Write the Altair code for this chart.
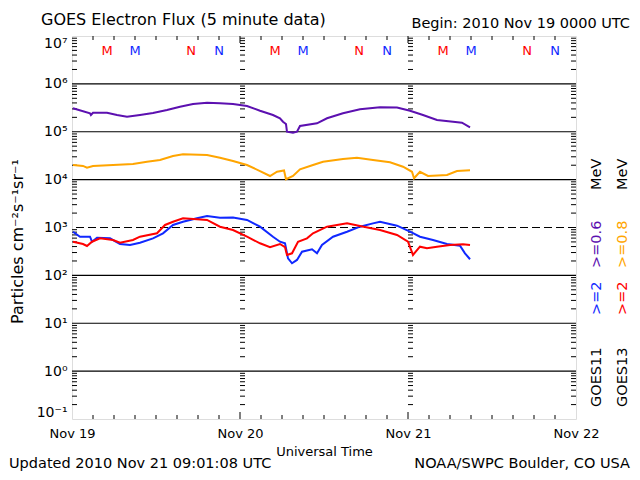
import altair as alt
import pandas as pd

# ---------------- data ----------------
day_labels = ["Nov 19", "Nov 20", "Nov 21", "Nov 22"]
day_hours = [0, 24, 48, 72]

decade_values = [0.1, 1, 10, 100, 1e3, 1e4, 1e5, 1e6, 1e7]
decade_labels = ["10⁻¹", "10⁰", "10¹", "10²", "10³", "10⁴", "10⁵", "10⁶", "10⁷"]
solid_levels = [1, 10, 100, 1e4, 1e5, 1e6]
dashed_levels = [1e3]

# GOES11 >=0.6 MeV (purple)
g11_06_hours = [0.14, 2.57, 2.7, 3.0, 5.0, 6.43, 7.86, 9.71, 11.57, 13.57, 15.43, 17.29,
                19.29, 21.14, 23.0, 25.0, 26.86, 28.71, 29.71, 30.14, 30.57, 30.71, 31.57,
                32.14, 32.57, 35.0, 36.43, 38.71, 41.14, 44.0, 46.43, 48.29, 50.14, 52.14,
                54.43, 55.71, 56.86]
g11_06_flux = [3.09e5, 2.43e5, 2.24e5, 2.50e5, 2.50e5, 2.24e5, 2.06e5, 2.24e5, 2.47e5,
               2.85e5, 3.34e5, 3.80e5, 4.05e5, 3.93e5, 3.80e5, 3.45e5, 2.75e5, 2.24e5,
               1.91e5, 1.62e5, 1.45e5, 1.0e5, 9.5e4, 1.0e5, 1.32e5, 1.50e5, 1.91e5,
               2.43e5, 2.94e5, 3.24e5, 3.2e5, 2.75e5, 2.24e5, 1.76e5, 1.62e5, 1.55e5, 1.24e5]

# GOES13 >=0.8 MeV (orange)
g13_08_hours = [0.14, 1.57, 2.14, 3.0, 5.86, 8.71, 10.71, 12.57, 14.43, 15.86, 19.29,
                21.14, 23.0, 25.0, 26.86, 28.29, 29.29, 30.29, 30.57, 31.57, 32.57, 34.43,
                35.86, 38.71, 40.71, 43.0, 45.43, 47.29, 48.57, 48.86, 49.71, 50.86, 53.57,
                55.0, 56.86]
g13_08_flux = [2.02e4, 1.93e4, 1.77e4, 1.93e4, 2.02e4, 2.12e4, 2.37e4, 2.57e4, 3.11e4,
               3.38e4, 3.27e4, 2.87e4, 2.45e4, 2.02e4, 1.51e4, 1.19e4, 1.46e4, 1.55e4,
               1.02e4, 1.19e4, 1.64e4, 2.02e4, 2.37e4, 2.70e4, 2.87e4, 2.57e4, 2.30e4,
               1.86e4, 1.46e4, 1.07e4, 1.46e4, 1.19e4, 1.25e4, 1.51e4, 1.57e4]

# GOES11 >=2 MeV (blue)
g11_2_hours = [0.14, 1.14, 2.57, 2.86, 3.57, 5.43, 6.86, 8.29, 9.71, 11.57, 13.0, 14.43,
               15.86, 17.86, 19.29, 21.14, 23.0, 25.0, 26.86, 28.71, 29.71, 30.43, 30.86,
               31.43, 32.14, 32.86, 34.29, 35.0, 35.71, 37.29, 39.29, 41.14, 43.0, 44.0,
               46.43, 48.29, 49.71, 51.57, 53.57, 55.43, 56.14, 56.86]
g11_2_flux = [8.17e2, 6.42e2, 6.42e2, 5.05e2, 6.12e2, 5.94e2, 4.52e2, 4.31e2, 4.81e2,
              5.94e2, 7.57e2, 1.13e3, 1.32e3, 1.56e3, 1.74e3, 1.60e3, 1.62e3, 1.44e3,
              1.04e3, 6.42e2, 5.05e2, 4.68e2, 2.27e2, 1.79e2, 2.10e2, 3.12e2, 3.51e2,
              2.89e2, 4.31e2, 6.42e2, 8.17e2, 1.04e3, 1.22e3, 1.32e3, 1.09e3, 8.17e2,
              6.42e2, 5.48e2, 4.52e2, 4.17e2, 2.89e2, 2.17e2]

# GOES13 >=2 MeV (red)
g13_2_hours = [0.14, 1.57, 2.14, 2.86, 4.0, 5.86, 6.86, 8.71, 9.71, 12.14, 13.29, 14.43,
               15.86, 17.86, 19.29, 21.14, 23.0, 25.0, 26.86, 28.29, 29.71, 30.43, 30.71,
               31.43, 32.29, 33.57, 34.43, 36.43, 39.29, 41.14, 44.0, 46.43, 48.0, 48.71,
               49.71, 50.71, 52.14, 54.0, 55.86, 56.86]
g13_2_flux = [5.05e2, 4.52e2, 4.11e2, 5.05e2, 5.94e2, 5.48e2, 4.81e2, 5.48e2, 6.42e2,
              7.57e2, 1.13e3, 1.32e3, 1.56e3, 1.48e3, 1.44e3, 1.04e3, 8.87e2, 6.42e2,
              4.68e2, 3.86e2, 4.52e2, 3.88e2, 2.67e2, 2.89e2, 5.05e2, 5.94e2, 7.57e2,
              1.04e3, 1.22e3, 1.07e3, 8.87e2, 6.97e2, 5.05e2, 2.67e2, 3.97e2, 3.68e2,
              3.97e2, 4.31e2, 4.45e2, 4.31e2]

series_names = ["GOES11 >=0.6 MeV", "GOES13 >=0.8 MeV", "GOES11 >=2 MeV", "GOES13 >=2 MeV"]
series_colors = ["#5c10b0", "#ffa500", "#1028ff", "#ff0000"]

# local midnight (M) / noon (N) markers
marker_hours = [5, 9, 17, 21, 29, 33, 41, 45, 53, 57, 65, 69]
marker_letters = ["M", "M", "N", "N"] * 3
marker_sats = ["GOES13", "GOES11", "GOES13", "GOES11"] * 3
marker_colors = ["#ff0000", "#1028ff"]

# axis minor ticks
minor_hours = [h for h in range(3, 72, 3) if h % 24 != 0]
minor_flux = [m * 10.0 ** k for k in range(-1, 7) for m in range(2, 10)]

FONT = "DejaVu Sans"

# ---------------- tables ----------------
lines_df = pd.concat([
    pd.DataFrame({"hour": h, "flux": f, "series": s})
    for s, h, f in zip(series_names,
                       [g11_06_hours, g13_08_hours, g11_2_hours, g13_2_hours],
                       [g11_06_flux, g13_08_flux, g11_2_flux, g13_2_flux])
])
solid_df = pd.DataFrame({"flux": solid_levels})
dashed_df = pd.DataFrame({"flux": dashed_levels})
inner_ticks_df = pd.DataFrame([(h, f) for h in day_hours[:3] for f in minor_flux],
                              columns=["hour", "flux"])
right_ticks_df = pd.DataFrame([(day_hours[3], f) for f in minor_flux],
                              columns=["hour", "flux"])
minor_x_df = pd.DataFrame({"hour": minor_hours})
day_x_df = pd.DataFrame({"hour": day_hours[1:3]})
markers_df = pd.DataFrame({"hour": marker_hours, "letter": marker_letters, "sat": marker_sats})

# ---------------- scales / axes ----------------
x_scale = alt.Scale(domain=[0, 72], nice=False, zero=False)
y_scale = alt.Scale(type="log", domain=[0.1, 1e7], nice=False)

label_map = "{" + ",".join(f"'{i - 1}':'{t}'" for i, t in enumerate(decade_labels)) + "}"

x_axis = alt.Axis(values=day_hours,
                  labelExpr="['Nov 19','Nov 20','Nov 21','Nov 22'][round(datum.value/24)]",
                  ticks=False, domain=False, grid=False, labelFlush=False,
                  labelPadding=8, labelFontSize=13, labelFont=FONT, labelColor="black",
                  title="Universal Time", titleFontSize=13, titleFont=FONT,
                  titleFontWeight="normal", titleColor="black",
                  titleY=36, titleBaseline="alphabetic")
y_axis = alt.Axis(values=decade_values,
                  labelExpr=label_map + "[''+round(log(datum.value)/LN10)]",
                  ticks=False, domain=False, grid=False, labelFlush=True,
                  labelPadding=5, labelFontSize=14, labelFont=FONT, labelColor="black",
                  title="Particles cm⁻²s⁻¹sr⁻¹", titleFont=FONT, titleFontSize=16,
                  titleFontWeight="normal", titleColor="black", titleAngle=270,
                  titleX=-55, titleY=205, titleAlign="center", titleBaseline="middle")

X = alt.X("hour:Q", scale=x_scale, axis=x_axis)
Y = alt.Y("flux:Q", scale=y_scale, axis=y_axis)

# ---------------- layers ----------------
solid = alt.Chart(solid_df).mark_rule(color="black", strokeWidth=1.2).encode(y=Y)
dashed = alt.Chart(dashed_df).mark_rule(color="black", strokeWidth=1.2,
                                        strokeDash=[8, 4]).encode(y=Y)

ticks_in = alt.Chart(inner_ticks_df).mark_tick(orient="horizontal", size=5, thickness=1,
                                               color="black", xOffset=2.5, opacity=1
                                               ).encode(x=X, y=Y)
ticks_right = alt.Chart(right_ticks_df).mark_tick(orient="horizontal", size=5, thickness=1,
                                                  color="black", xOffset=-2.5, opacity=1
                                                  ).encode(x=X, y=Y)

xt_bottom = alt.Chart(minor_x_df).mark_rule(color="black", strokeWidth=1).encode(
    x=X, y=alt.value(383), y2=alt.value(379))
xt_top = alt.Chart(minor_x_df).mark_rule(color="black", strokeWidth=1).encode(
    x=X, y=alt.value(0), y2=alt.value(4))
dt_bottom = alt.Chart(day_x_df).mark_rule(color="black", strokeWidth=1).encode(
    x=X, y=alt.value(383), y2=alt.value(376))
dt_top = alt.Chart(day_x_df).mark_rule(color="black", strokeWidth=1).encode(
    x=X, y=alt.value(0), y2=alt.value(7))

lines = alt.Chart(lines_df).mark_line(strokeWidth=2).encode(
    x=X, y=Y,
    color=alt.Color("series:N", scale=alt.Scale(domain=series_names, range=series_colors),
                    legend=None),
    detail="series:N",
)

markers = alt.Chart(markers_df).mark_text(font=FONT, fontSize=13, baseline="middle",
                                          align="center").encode(
    x=X, y=alt.value(14.5), text="letter:N",
    color=alt.Color("sat:N", scale=alt.Scale(domain=["GOES13", "GOES11"], range=marker_colors),
                    legend=None),
)


def label(text, x, y, size, color="black", align="left", baseline="alphabetic", angle=0):
    return alt.Chart(pd.DataFrame({"t": [text]})).mark_text(
        font=FONT, fontSize=size, color=color, align=align, baseline=baseline, angle=angle
    ).encode(x=alt.value(x), y=alt.value(y), text="t:N")


texts = [
    label("GOES Electron Flux (5 minute data)", -31, -11, 16),
    label("Begin: 2010 Nov 19 0000 UTC", 558, -8, 14.5, align="right"),
    label("Updated 2010 Nov 21 09:01:08 UTC", -63, 432, 14.5),
    label("NOAA/SWPC Boulder, CO USA", 558, 432, 14.5, align="right"),
    # right-hand legend, column 1 (GOES11)
    label("GOES11", 525, 371, 14.5, baseline="middle", angle=270),
    label(">=2", 525, 279, 14.5, color="#1028ff", baseline="middle", angle=270),
    label(">=0.6", 525, 232, 14.5, color="#5c10b0", baseline="middle", angle=270),
    label("MeV", 525, 154, 14.5, baseline="middle", angle=270),
    # column 2 (GOES13)
    label("GOES13", 551, 371, 14.5, baseline="middle", angle=270),
    label(">=2", 551, 279, 14.5, color="#ff0000", baseline="middle", angle=270),
    label(">=0.8", 551, 232, 14.5, color="#ffa500", baseline="middle", angle=270),
    label("MeV", 551, 154, 14.5, baseline="middle", angle=270),
]

chart = alt.layer(
    solid, dashed, ticks_in, ticks_right, xt_bottom, xt_top, dt_bottom, dt_top,
    lines, markers, *texts
).resolve_scale(color="independent").properties(
    width=504, height=383,
    autosize=alt.AutoSizeParams(type="none"),
    padding={"left": 64, "top": 28, "right": 56, "bottom": 53},
    background="white",
).configure_view(stroke="black", strokeWidth=1).configure(font=FONT)

chart.save("out.html", embed_options={"renderer": "svg", "actions": False})
